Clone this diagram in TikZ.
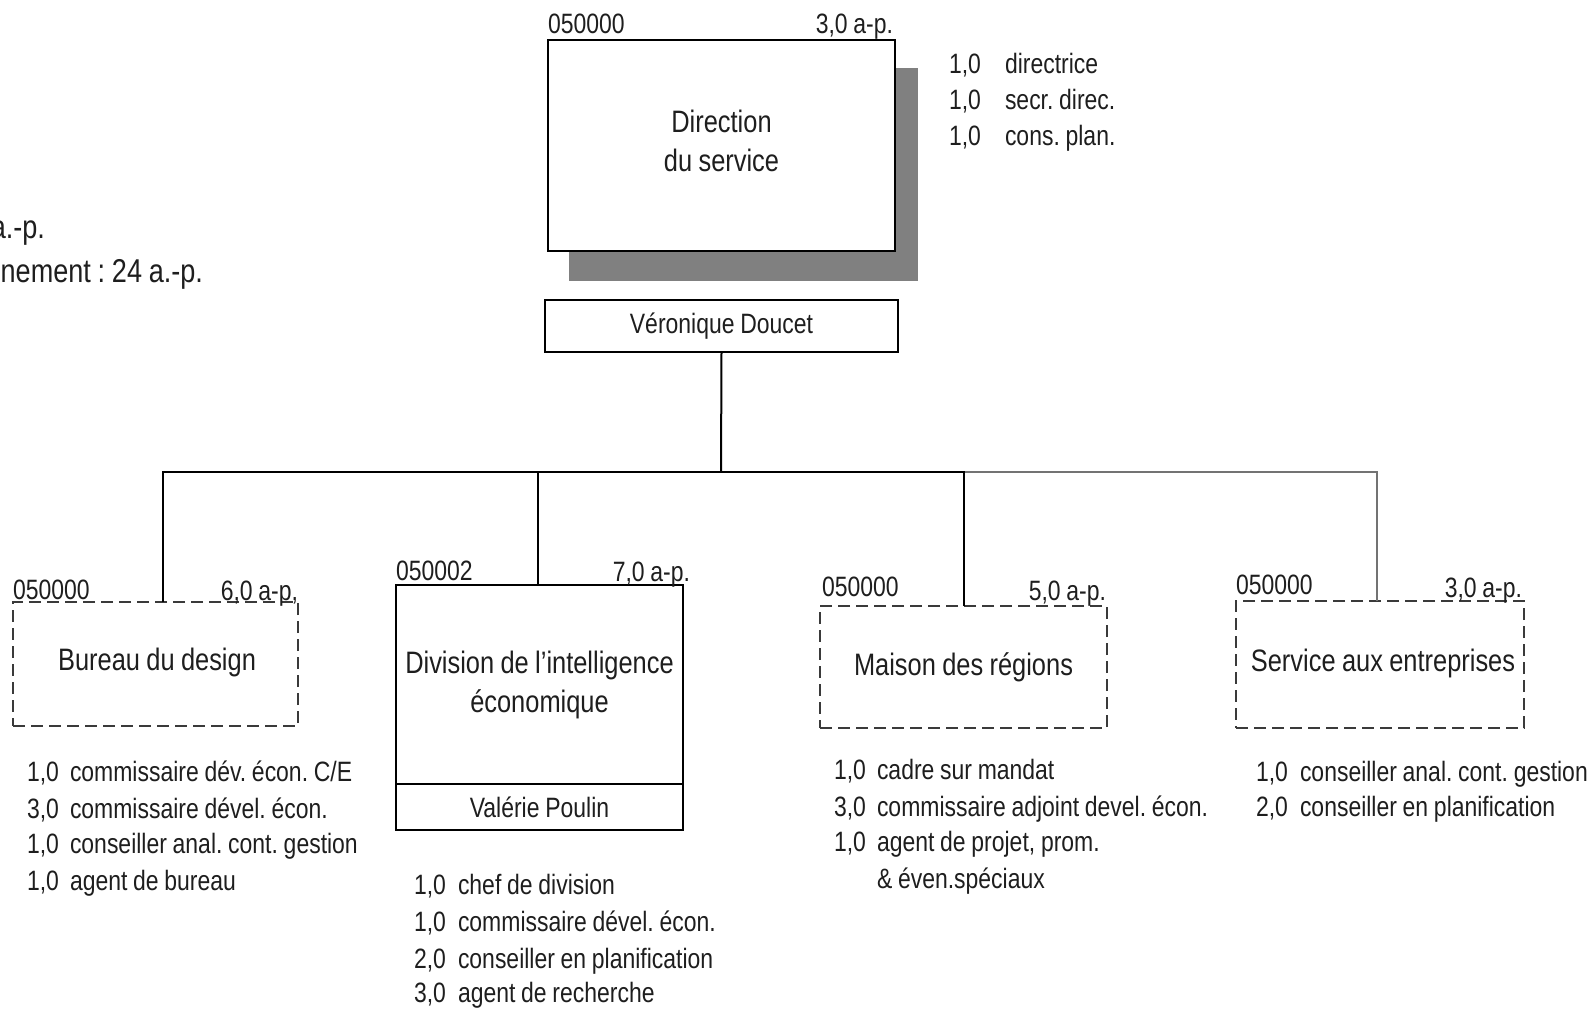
\documentclass[tikz,border=0pt]{standalone}
\usepackage{fontspec}
\setmainfont{Liberation Sans}[FakeStretch=0.82,WordSpace=0.9]
\frenchspacing
\newcommand\fsmall{\fontsize{14pt}{17pt}\selectfont}
\newcommand\ftitle{\fontsize{15.5pt}{19.5pt}\selectfont}
\newcommand\fsum{\fontsize{16.5pt}{20pt}\selectfont}
\newcommand\orgrow[6]{%
  \node[lst,anchor=base west] (#1a) at (#2,#4) {#5};
  \node[lst,anchor=base west] (#1b) at (#3,#4) {#6};}
\definecolor{ink}{HTML}{1E1E1E}
\definecolor{shadowgray}{HTML}{808080}
\definecolor{dashgray}{HTML}{3A3A3A}
\begin{document}
\begin{tikzpicture}[x=0.5pt,y=-0.5pt,
  solidbox/.style={draw=black,line width=1pt,fill=white,inner sep=0pt,outer sep=0pt,
    align=center,text=ink,font=\ftitle},
  dashbox/.style={draw=dashgray,line width=1.4pt,dash pattern=on 6pt off 3pt,inner sep=0pt,
    outer sep=0pt,align=center,text=ink,font=\ftitle},
  lab/.style={inner sep=0pt,outer sep=0pt,text=ink,font=\fsmall},
  lst/.style={inner sep=0pt,outer sep=0pt,text=ink,font=\fsmall},
  conn/.style={draw=black,line width=1pt},
  gconn/.style={draw=black!55,line width=0.9pt}]
\useasboundingbox (0,0) rectangle (1591,1008);
\clip (0,0) rectangle (1591,1008);

% left cut-off summary text
\node[lab,font=\fsum,anchor=base east] (sum1) at (45,238) {a.-p.};
\node[lab,font=\fsum,anchor=base east] (sum2) at (203,282) {nement : 24 a.-p.};

% Direction
\fill[shadowgray] (569,68) rectangle (918,281);
\node[solidbox,minimum width=173.5pt,minimum height=105.5pt] (dir) at (721.5,145.5) {};
\node[lab,font=\ftitle,align=center] (dirt) at (721.5,141) {Direction\\du service};
\node[lab,anchor=base west] (dircode) at (548,33) {050000};
\node[lab,anchor=base east] (dirap) at (893,33) {3,0 a-p.};
\orgrow{d1}{949}{1005}{73}{1,0}{directrice}
\orgrow{d2}{949}{1005}{109}{1,0}{secr. direc.}
\orgrow{d3}{949}{1005}{145}{1,0}{cons. plan.}

\node[solidbox,font=\fsmall,minimum width=176.5pt,minimum height=26pt] (ver) at (721.5,326)
  {Véronique Doucet};

% units
\node[dashbox,minimum width=142.5pt,minimum height=62pt] (bur) at (155.5,664) {};
\node[lab,font=\ftitle] (burt) at (157,662) {Bureau du design};
\node[solidbox,minimum width=143.5pt,minimum height=99.5pt] (div) at (539.5,684.5)
  {Division de l’intelligence\\économique};
\node[solidbox,font=\fsmall,minimum width=143.5pt,minimum height=23pt] (divp) at (539.5,807)
  {Valérie Poulin};
\node[dashbox,minimum width=143.5pt,minimum height=61pt] (mai) at (963.5,667) {Maison des régions};
\node[dashbox,minimum width=144pt,minimum height=63.5pt] (ser) at (1380,664.5) {};
\node[lab,font=\ftitle] (sert) at (1383,663) {Service aux entreprises};

% connectors
\coordinate (hub) at (721,472);
\coordinate (xb) at (163,0);
\coordinate (xd) at (538,0);
\coordinate (xm) at (964,0);
\coordinate (xs) at (1377,0);
\coordinate (jm) at (964,472);
\draw[gconn] (ser.north -| xs) |- (jm);
\draw[conn] (ver.south) -- (hub);
\draw[conn] (bur.north -| xb) |- (hub);
\draw[conn] (div.north -| xd) |- (hub);
\draw[conn] (mai.north -| xm) |- (hub);

% codes
\node[lab,anchor=base west] (burcode) at (13,599) {050000};
\node[lab,anchor=base east] (burap) at (298,600) {6,0 a-p,};
\node[lab,anchor=base west] (divcode) at (396,580) {050002};
\node[lab,anchor=base east] (divap) at (690,581) {7,0 a-p.};
\node[lab,anchor=base west] (maicode) at (822,596) {050000};
\node[lab,anchor=base east] (maiap) at (1106,600) {5,0 a-p.};
\node[lab,anchor=base west] (sercode) at (1236,594) {050000};
\node[lab,anchor=base east] (serap) at (1522,597) {3,0 a-p.};

% lists
\orgrow{b1}{27}{70}{781}{1,0}{commissaire dév. écon. C/E}
\orgrow{b2}{27}{70}{818}{3,0}{commissaire dével. écon.}
\orgrow{b3}{27}{70}{853}{1,0}{conseiller anal. cont. gestion}
\orgrow{b4}{27}{70}{890}{1,0}{agent de bureau}

\orgrow{v1}{414}{458}{894}{1,0}{chef de division}
\orgrow{v2}{414}{458}{931}{1,0}{commissaire dével. écon.}
\orgrow{v3}{414}{458}{968}{2,0}{conseiller en planification}
\orgrow{v4}{414}{458}{1002}{3,0}{agent de recherche}

\orgrow{m1}{834}{877}{779}{1,0}{cadre sur mandat}
\orgrow{m2}{834}{877}{816}{3,0}{commissaire adjoint devel. écon.}
\orgrow{m3}{834}{877}{851}{1,0}{agent de projet, prom.}
\node[lst,anchor=base west] (m4) at (877,888) {\& éven.spéciaux};

\orgrow{s1}{1256}{1300}{781}{1,0}{conseiller anal. cont. gestion}
\orgrow{s2}{1256}{1300}{816}{2,0}{conseiller en planification}
\end{tikzpicture}
\end{document}
